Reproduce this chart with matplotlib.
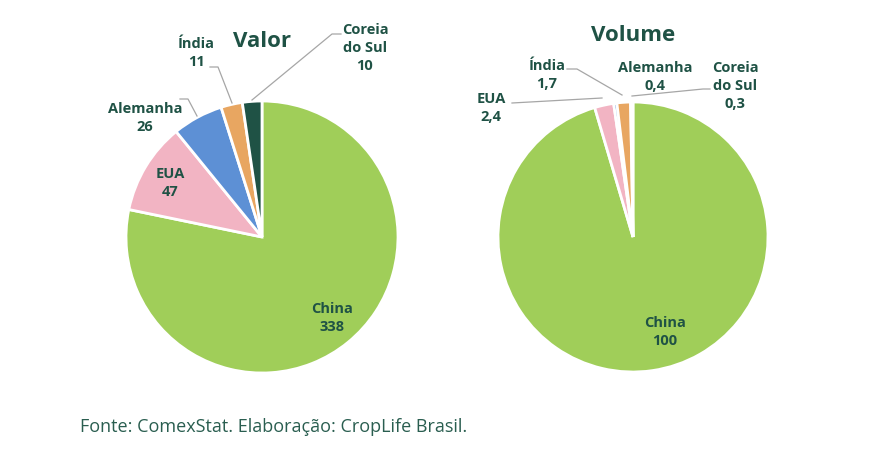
import matplotlib
matplotlib.use('Agg')
import matplotlib.pyplot as plt

# Data
countries_valor = ['China', 'EUA', 'Alemanha', 'Índia', 'Coreia\ndo Sul']
valor = [338, 47, 26, 11, 10]
valor_labels = ['338', '47', '26', '11', '10']

countries_volume = ['China', 'EUA', 'Alemanha', 'Índia', 'Coreia\ndo Sul']
volume = [100, 2.4, 0.4, 1.7, 0.3]
volume_labels = ['100', '2,4', '0,4', '1,7', '0,3']

colors = ['#A0CE59', '#F2B4C3', '#5D90D5', '#E8A661', '#1F5245']
text_color = '#1F5245'
line_color = '#A6A6A6'

plt.rcParams['font.family'] = ['Open Sans', 'DejaVu Sans']

W, H = 883, 453
fig = plt.figure(figsize=(W / 100, H / 100), dpi=100)


def pie_axes(cx, cy, r):
    ax = fig.add_axes([(cx - r) / W, (H - cy - r) / H, 2 * r / W, 2 * r / H])
    return ax


def fix_limits(ax):
    ax.set_xlim(-1, 1)
    ax.set_ylim(-1, 1)
    ax.set_aspect('equal')
    ax.axis('off')


def to_data(px, py, cx, cy, r):
    return (px - cx) / r, (cy - py) / r


# ---- Valor
cx1, cy1, r1 = 262, 237, 136
ax1 = pie_axes(cx1, cy1, r1)
ax1.pie(valor, colors=colors, startangle=90, counterclock=False, radius=1,
        wedgeprops=dict(edgecolor='white', linewidth=2))
fix_limits(ax1)
ax1.text(0, 1.44, 'Valor', ha='center', va='center', fontsize=16,
         fontweight='bold', color=text_color)

valor_pos = [(332, 318), (170, 183), (145, 118), (196, 53), (365, 48)]
for name, lab, (px, py) in zip(countries_valor, valor_labels, valor_pos):
    x, y = to_data(px, py, cx1, cy1, r1)
    ax1.text(x, y, name + '\n' + lab, ha='center', va='center', fontsize=10.5,
             fontweight='bold', color=text_color, linespacing=1.4)

valor_lines = [
    [(180, 99), (188, 99), (197, 116)],
    [(210, 67), (218, 67), (232, 103)],
    [(341, 34), (332, 34), (252, 100)],
]
for pts in valor_lines:
    xs, ys = zip(*[to_data(px, py, cx1, cy1, r1) for px, py in pts])
    ax1.plot(xs, ys, color=line_color, lw=0.9, clip_on=False)

# ---- Volume
cx2, cy2, r2 = 633, 237, 135
ax2 = pie_axes(cx2, cy2, r2)
ax2.pie(volume, colors=colors, startangle=90, counterclock=False, radius=1,
        wedgeprops=dict(edgecolor='white', linewidth=2))
fix_limits(ax2)
ax2.text(0, 1.49, 'Volume', ha='center', va='center', fontsize=16,
         fontweight='bold', color=text_color)

volume_pos = [(665, 332), (491, 108), (655, 77), (547, 75), (735, 86)]
for name, lab, (px, py) in zip(countries_volume, volume_labels, volume_pos):
    x, y = to_data(px, py, cx2, cy2, r2)
    ax2.text(x, y, name + '\n' + lab, ha='center', va='center', fontsize=10.5,
             fontweight='bold', color=text_color, linespacing=1.4)

volume_lines = [
    [(512, 103), (602, 98)],
    [(567, 69), (577, 69), (622, 95)],
    [(710, 89), (703, 89), (632, 96)],
]
for pts in volume_lines:
    xs, ys = zip(*[to_data(px, py, cx2, cy2, r2) for px, py in pts])
    ax2.plot(xs, ys, color=line_color, lw=0.9, clip_on=False)

fig.text(80 / W, 1 - 427 / H, 'Fonte: ComexStat. Elaboração: CropLife Brasil.',
         ha='left', va='center', fontsize=13, color='#2A5E50')

fig.savefig('out.png', dpi=100, facecolor='white')
